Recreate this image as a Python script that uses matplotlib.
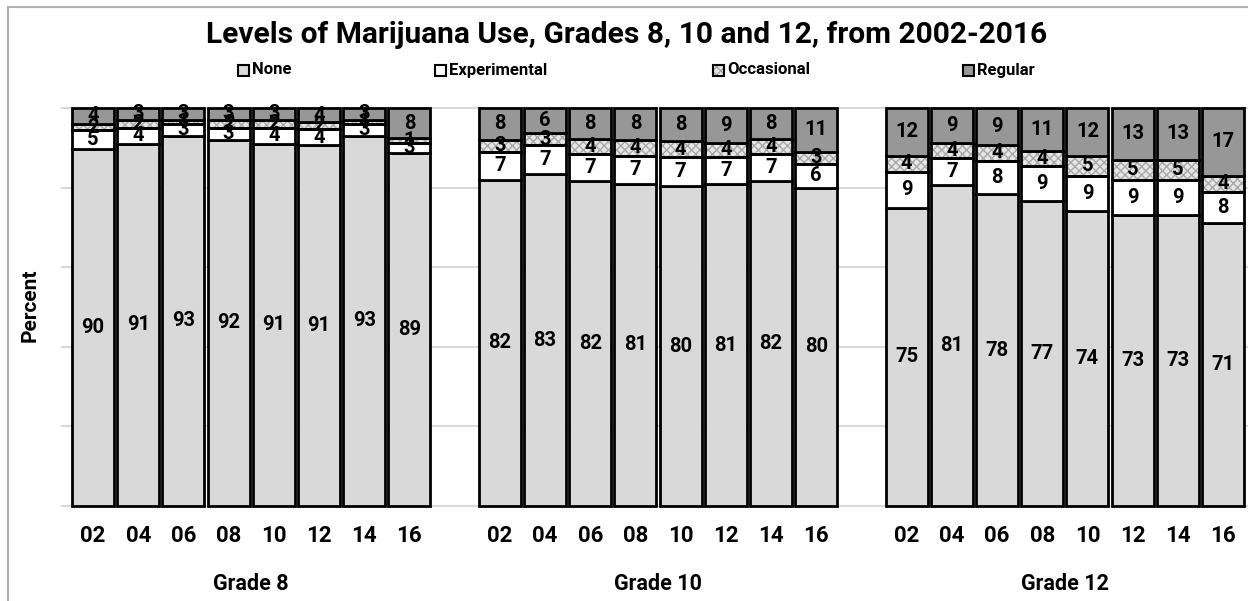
import matplotlib
matplotlib.use("Agg")
import matplotlib.pyplot as plt
from matplotlib.lines import Line2D
from matplotlib.patches import Rectangle

plt.rcParams['font.family'] = ['Roboto', 'DejaVu Sans']
plt.rcParams['font.weight'] = 'bold'
plt.rcParams['hatch.linewidth'] = 1.0

years = ["02", "04", "06", "08", "10", "12", "14", "16"]
grades = ["Grade 8", "Grade 10", "Grade 12"]
series = ["None", "Experimental", "Occasional", "Regular"]

none_vals = [89.6, 91, 93, 92, 91, 90.6, 93, 88.6,
             82, 83.4, 81.6, 81, 80.4, 80.8, 81.6, 80,
             75, 80.6, 78.3, 76.6, 74, 73, 73, 71]
experimental_vals = [4.8, 4, 3, 3, 4, 4.2, 3, 2.7,
                     7, 7.3, 6.8, 7, 7.2, 6.8, 6.8, 6,
                     9, 6.8, 8.3, 8.8, 9, 9, 9, 8]
occasional_vals = [1.6, 2, 1, 2, 2, 1.6, 1, 1.1,
                   3, 3.0, 3.7, 4, 4.1, 3.7, 3.8, 3,
                   4, 3.8, 4.2, 3.8, 5, 5, 5, 4]
regular_vals = [4.0, 3, 3, 3, 3, 3.6, 3, 7.6,
                8, 6.3, 7.9, 8, 8.3, 8.7, 7.8, 11,
                12, 8.8, 9.2, 10.8, 12, 13, 13, 17]

W, H = 1248, 601
fig = plt.figure(figsize=(W / 100, H / 100), dpi=100)
fig.patch.set_facecolor("white")

ax_left, ax_right, ax_bottom, ax_top = 62, 1248, 95, 493
ax = fig.add_axes([ax_left / W, ax_bottom / H, (ax_right - ax_left) / W, (ax_top - ax_bottom) / H])

pitch = 45.2
x0 = -(93 - ax_left) / pitch
x1 = x0 + (ax_right - ax_left) / pitch
ax.set_xlim(x0, x1)
ax.set_ylim(0, 100)

xs = [g * 9 + i for g in range(len(grades)) for i in range(len(years))]
bw = 0.93

for y in [0, 20, 40, 60, 80, 100]:
    ax.axhline(y, color="#d9d9d9", lw=1.5, zorder=0, clip_on=False)

colors = {"None": "#d9d9d9", "Experimental": "#ffffff", "Occasional": "#e6e6e6", "Regular": "#979797"}
data = [none_vals, experimental_vals, occasional_vals, regular_vals]
bottoms = [0] * len(xs)
for name, vals in zip(series, data):
    if name == "Occasional":
        ax.bar(xs, vals, bw, bottom=bottoms, color=colors[name], edgecolor="#a8a8a8",
               hatch="xxxx", linewidth=0, zorder=2, clip_on=False)
        ax.bar(xs, vals, bw, bottom=bottoms, facecolor="none", edgecolor="black",
               linewidth=2, zorder=3, clip_on=False)
    else:
        ax.bar(xs, vals, bw, bottom=bottoms, color=colors[name], edgecolor="black",
               linewidth=2, zorder=3, clip_on=False)
    for x, b, v in zip(xs, bottoms, vals):
        ax.text(x, b + v / 2, f"{v:.0f}", ha="center", va="center", fontsize=14.5,
                fontweight="bold", color="black", zorder=5)
    bottoms = [b + v for b, v in zip(bottoms, vals)]

for s in ax.spines.values():
    s.set_visible(False)
ax.set_yticks([])
ax.set_xticks(xs)
ax.set_xticklabels(years * 3, fontsize=16, fontweight="bold")
ax.tick_params(axis="x", length=0, pad=14)

for g, name in enumerate(grades):
    cx = g * 9 + 3.5
    ax.text(cx, -19.5, name, ha="center", va="center", fontsize=15.5, fontweight="bold",
            transform=ax.transData, clip_on=False)

fig.text(30 / W, 1 - 305 / H, "Percent", rotation=90, ha="center", va="center",
         fontsize=15, fontweight="bold")

fig.text(627 / W, 1 - 35 / H, "Levels of Marijuana Use, Grades 8, 10 and 12, from 2002-2016",
         ha="center", va="center", fontsize=21.5, fontweight="bold")

leg_x = [243, 440, 718, 968]
for name, lx in zip(series, leg_x):
    if name == "Occasional":
        r = Rectangle(((lx - 5) / W, 1 - 76 / H), 11 / W, 11 / H, transform=fig.transFigure,
                      facecolor=colors[name], edgecolor="#a8a8a8", hatch="xxxx", lw=0)
        fig.patches.append(r)
        r2 = Rectangle(((lx - 5) / W, 1 - 76 / H), 11 / W, 11 / H, transform=fig.transFigure,
                       facecolor="none", edgecolor="black", lw=1.5)
        fig.patches.append(r2)
    else:
        r = Rectangle(((lx - 5) / W, 1 - 76 / H), 11 / W, 11 / H, transform=fig.transFigure,
                      facecolor=colors[name], edgecolor="black", lw=1.5)
        fig.patches.append(r)
    fig.text((lx + 9) / W, 1 - 70 / H, name, ha="left", va="center", fontsize=12,
             fontweight="bold")

fig.lines.append(Line2D([8 / W, 8 / W], [0, 1 - 7 / H], transform=fig.transFigure,
                        color="#b0b0b0", lw=1.5))
fig.lines.append(Line2D([8 / W, 1], [1 - 7 / H, 1 - 7 / H], transform=fig.transFigure,
                        color="#b0b0b0", lw=1.5))

fig.savefig("out.png", dpi=100, facecolor="white")
